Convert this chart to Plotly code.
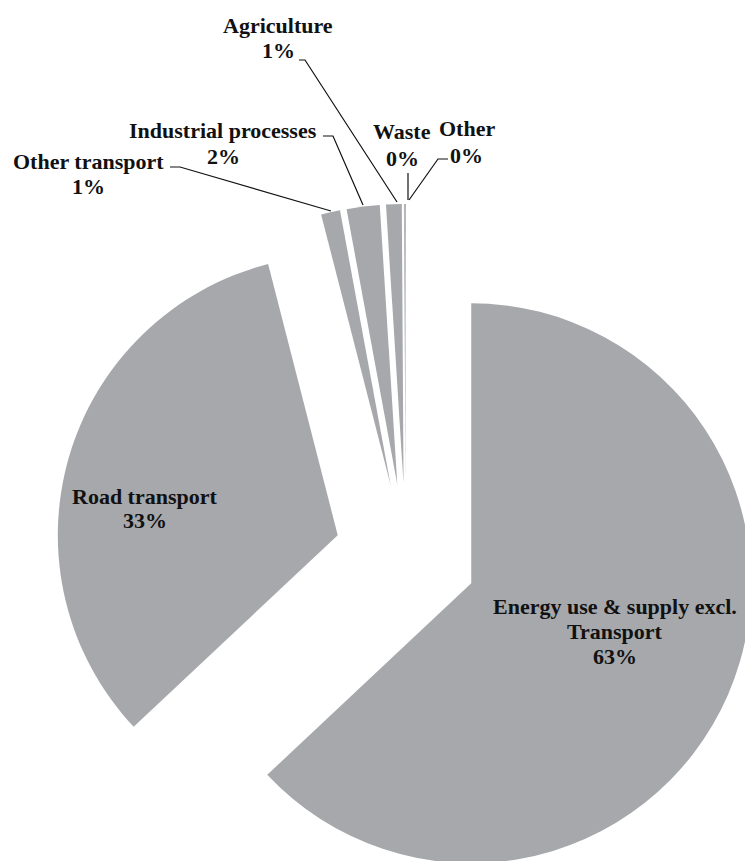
import plotly.graph_objects as go

# ---- data ----
categories = ["Energy use & supply excl.<br>Transport", "Road transport", "Other transport",
              "Industrial processes", "Agriculture", "Waste", "Other"]
values = [63.0, 33.0, 1.1, 1.9, 0.9, 0.05, 0.05]
pct_labels = [f"{round(v / sum(values) * 100)}%" for v in values]

# ---- layout geometry (pixels) ----
W, H = 760, 910
ML, MT, PW, PH = 55, 204, 702, 702
MR, MB = W - ML - PW, H - MT - PH
PULL = 0.254
SLICE_COLOR = "#a6a8ac"
FONT = dict(family="Liberation Serif", size=22, color="#111111", weight="bold")


def px(x):
    return (x - ML) / PW


def py(y):
    return 1 - (y - MT) / PH


fig = go.Figure(go.Pie(
    labels=[c.replace("<br>", " ") for c in categories],
    values=values,
    sort=False,
    direction="clockwise",
    rotation=0,
    pull=[PULL] * len(values),
    marker=dict(colors=[SLICE_COLOR] * len(values), line=dict(width=0)),
    textinfo="none",
    hoverinfo="label+percent",
    showlegend=False,
))

# label placement: (center x, first baseline y, line spacing) in pixels
label_pos = [
    (615, 613, 25),   # Energy
    (145, 504, 23),   # Road transport
    (88, 168, 25),    # Other transport
    (223, 137, 26),   # Industrial processes
    (278, 33, 25),    # Agriculture
    (402, 138, 27),   # Waste
    (467, 136, 26),   # Other
]

annotations = []
for cat, pct, (cx, by, ls) in zip(categories, pct_labels, label_pos):
    lines = cat.split("<br>") + [pct]
    for i, line in enumerate(lines):
        yb = by + i * ls
        annotations.append(dict(
            x=px(cx), y=py(yb - 7), xref="paper", yref="paper",
            text=line, showarrow=False, xanchor="center", yanchor="middle",
            font=FONT,
        ))

# leader lines (pixel polylines)
leaders = [
    [(170, 167), (180, 167), (331, 211)],   # Other transport
    [(323, 136), (333, 136), (363, 205)],   # Industrial processes
    [(299, 60), (305, 60), (397, 202)],     # Agriculture
    [(408, 173), (408, 200)],               # Waste
    [(448, 159), (438, 159), (409, 200)],   # Other
]
shapes = []
for pts in leaders:
    path = "M " + " L ".join(f"{px(x):.5f},{py(y):.5f}" for x, y in pts)
    shapes.append(dict(type="path", path=path, xref="paper", yref="paper",
                       line=dict(color="#111111", width=1.2)))

fig.update_layout(
    width=W, height=H,
    margin=dict(l=ML, r=MR, t=MT, b=MB, pad=0),
    paper_bgcolor="white", plot_bgcolor="white",
    annotations=annotations,
    shapes=shapes,
)

fig.write_html(
    "out.html",
    config={"displayModeBar": False},
    post_script="document.body.style.margin='0';document.body.style.overflow='hidden';"
                "document.documentElement.style.overflow='hidden';",
)
